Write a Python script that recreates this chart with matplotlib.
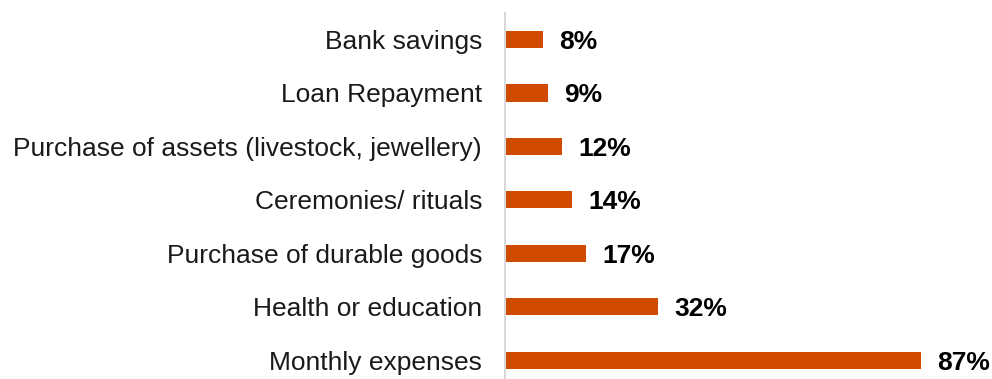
import matplotlib
matplotlib.use("Agg")
import matplotlib.pyplot as plt

categories = [
    "Monthly expenses",
    "Health or education",
    "Purchase of durable goods",
    "Ceremonies/ rituals",
    "Purchase of assets (livestock, jewellery)",
    "Loan Repayment",
    "Bank savings",
]
values = [87, 32, 17, 14, 12, 9, 8]

plt.rcParams["font.family"] = ["Liberation Sans", "DejaVu Sans"]

W, H = 992, 379
fig = plt.figure(figsize=(W / 100, H / 100), dpi=100)

left_px = 505
top_px = 12.75
bottom_px = 387
ax = fig.add_axes([left_px / W, 1 - bottom_px / H, (W - left_px) / W, (bottom_px - top_px) / H])

bar_color = "#D04A02"
y = list(range(len(categories)))
ax.barh(y, values, height=0.32, color=bar_color)

px_per_unit = 415.7 / 87
ax.set_xlim(0, (W - left_px) / px_per_unit)
ax.set_ylim(-0.5, len(categories) - 0.5)

for yi, v in zip(y, values):
    ax.text(v + 16 / px_per_unit, yi, f"{v}%", va="center_baseline", ha="left",
            fontsize=19, fontweight="bold", color="black")

ax.set_yticks(y)
ax.set_yticklabels(categories, fontsize=19, color="#1a1a1a")
ax.tick_params(axis="y", length=0, pad=16.5)
ax.set_xticks([])

for s in ["top", "right", "bottom"]:
    ax.spines[s].set_visible(False)
ax.spines["left"].set_color("#D9D9D9")
ax.spines["left"].set_linewidth(1.5)

fig.savefig("out.png", dpi=100)
